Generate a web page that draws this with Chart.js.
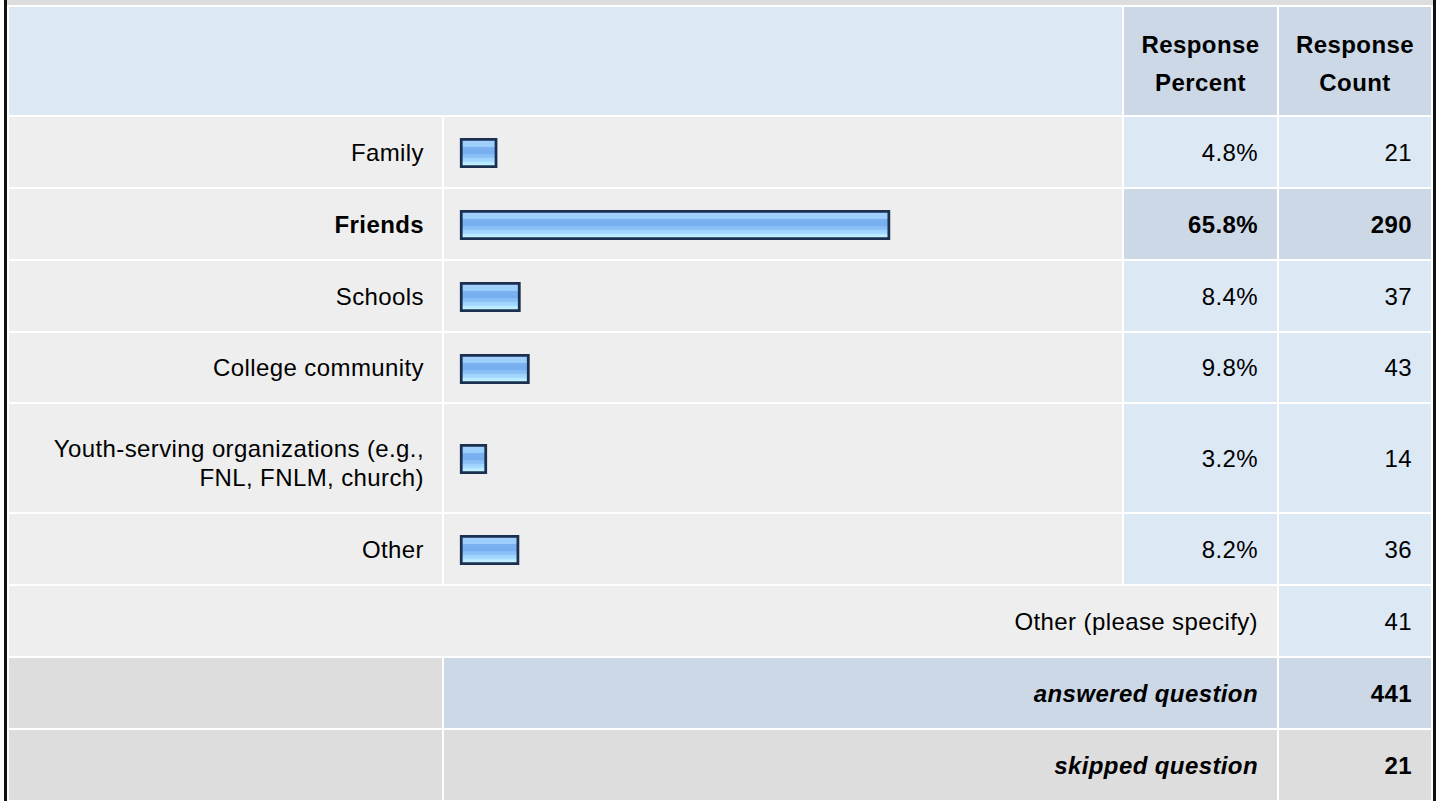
<!DOCTYPE html>
<html>
<head>
<meta charset="utf-8">
<script src="https://cdn.jsdelivr.net/npm/chart.js@4.4.1/dist/chart.umd.min.js"></script>
<style>
html,body{margin:0;padding:0;background:#fff;width:1440px;height:801px;overflow:hidden;font-family:"Liberation Sans",Arial,Helvetica,sans-serif;}
#frameL{position:absolute;left:4px;top:0;width:3px;height:801px;background:#111;}
#frameR{position:absolute;left:1433px;top:0;width:3px;height:801px;background:#111;}
#topstrip{position:absolute;left:7px;top:0;width:1426px;height:5px;background:#dddddd;}
table{position:absolute;left:7px;top:5px;border-collapse:separate;border-spacing:2px;table-layout:fixed;background:#fff;width:1426px;}
td{box-sizing:border-box;padding:0 19px 0 0;text-align:right;vertical-align:middle;font-size:24px;letter-spacing:0.4px;color:#000;line-height:29px;overflow:hidden;}
td.lbl{background:#eeeeee;padding-right:18px;}
td.lbl2{padding-top:10px;}
td.barcell{background:#eeeeee;padding:0;text-align:left;}
td.num{background:#dde8f5;}
td.hi{background:#ccd8e6;font-weight:bold;}
td.hdr0{background:#dde8f5;}
td.hdr{background:#ccd8e6;font-weight:bold;text-align:center;padding:6px 0 0 0;line-height:38px;}
td.spec{background:#eeeeee;}
td.sum0{background:#dddddd;}
td.sumA{background:#ccd8e6;font-weight:bold;font-style:italic;}
td.sumS{background:#dddddd;font-weight:bold;font-style:italic;}
td.cntA{background:#ccd8e6;font-weight:bold;}
td.cntS{background:#dddddd;font-weight:bold;}
.barwrap{position:relative;top:1px;width:678px;height:30px;}
.barwrap canvas{display:block;}
</style>
</head>
<body>
<div id="frameL"></div>
<div id="frameR"></div>
<div id="topstrip"></div>
<table id="tbl">
<colgroup><col style="width:433px"><col style="width:678px"><col style="width:153px"><col style="width:152px"></colgroup>
<tbody id="tb"></tbody>
</table>
<script>
// ---- data ----
const categories = ['Family', 'Friends', 'Schools', 'College community', 'Youth-serving organizations (e.g., FNL, FNLM, church)', 'Other'];
const responsePercent = [4.8, 65.8, 8.4, 9.8, 3.2, 8.2];
const responseCount = [21, 290, 37, 43, 14, 36];
const headerLabels = ['Response Percent', 'Response Count'];
const otherSpecifyLabel = 'Other (please specify)';
const otherSpecifyCount = 41;
const answeredLabel = 'answered question';
const answeredCount = 441;
const skippedLabel = 'skipped question';
const skippedCount = 21;

// ---- layout (pixels) ----
const rowHeights = [70, 70, 70, 69, 108, 70];
const X_MIN = -3.478, X_MAX = 101.8, BAR_BASE = -1;

const tb = document.getElementById('tb');
const maxPct = Math.max(...responsePercent);

function tr(h){ const r = document.createElement('tr'); r.style.height = h + 'px'; tb.appendChild(r); return r; }
function td(row, cls, html, colspan){ const c = document.createElement('td'); if (cls) c.className = cls; if (html !== undefined) c.innerHTML = html; if (colspan) c.colSpan = colspan; row.appendChild(c); return c; }

// header
let h = tr(108);
td(h, 'hdr0', '', 2);
td(h, 'hdr', headerLabels[0].replace(' ', '<br>'));
td(h, 'hdr', headerLabels[1].replace(' ', '<br>'));

const canvases = [];
categories.forEach((cat, i) => {
  const r = tr(rowHeights[i]);
  const isHi = responsePercent[i] === maxPct;
  const l = td(r, rowHeights[i] > 80 ? 'lbl lbl2' : 'lbl', cat);
  if (isHi) l.style.fontWeight = 'bold';
  const bc = td(r, 'barcell');
  const wrap = document.createElement('div'); wrap.className = 'barwrap';
  const cv = document.createElement('canvas'); cv.width = 678; cv.height = 30;
  wrap.appendChild(cv); bc.appendChild(wrap);
  canvases.push(cv);
  td(r, isHi ? 'num hi' : 'num', responsePercent[i].toFixed(1) + '%');
  td(r, isHi ? 'num hi' : 'num', String(responseCount[i]));
});

let r = tr(70);
td(r, 'spec', otherSpecifyLabel, 3);
td(r, 'num', String(otherSpecifyCount));
r = tr(70);
td(r, 'sum0', '');
td(r, 'sumA', answeredLabel, 2);
td(r, 'cntA', String(answeredCount));
r = tr(70);
td(r, 'sum0', '');
td(r, 'sumS', skippedLabel, 2);
td(r, 'cntS', String(skippedCount));

function barGradient(ctx){
  const chart = ctx.chart; const a = chart.chartArea;
  if (!a) return '#9fcffd';
  const g = chart.ctx.createLinearGradient(0, a.top, 0, a.bottom);
  const stops = [[0,'#a3d1fd'],[0.3,'#9ccdfc'],[0.3,'#7ab2f1'],[0.52,'#76aeef'],[0.52,'#84baf4'],[0.66,'#8ec4f8'],[0.66,'#9dd1fc'],[0.8,'#a6dcff'],[0.8,'#b4e8ff'],[1,'#d2fdff']];
  stops.forEach(s => g.addColorStop(s[0], s[1]));
  return g;
}

canvases.forEach((cv, i) => {
  new Chart(cv, {
    type: 'bar',
    data: {
      labels: [categories[i]],
      datasets: [{
        data: [responsePercent[i]],
        base: BAR_BASE,
        backgroundColor: barGradient,
        borderColor: '#1b2f4f',
        borderWidth: 3,
        borderSkipped: false,
        barPercentage: 1,
        categoryPercentage: 1
      }]
    },
    options: {
      indexAxis: 'y',
      responsive: false,
      maintainAspectRatio: false,
      animation: false,
      devicePixelRatio: 1,
      events: [],
      layout: { padding: 0 },
      plugins: { legend: { display: false }, tooltip: { enabled: false } },
      scales: {
        x: { type: 'linear', min: X_MIN, max: X_MAX, display: false },
        y: { display: false }
      }
    }
  });
});
</script>
</body>
</html>
